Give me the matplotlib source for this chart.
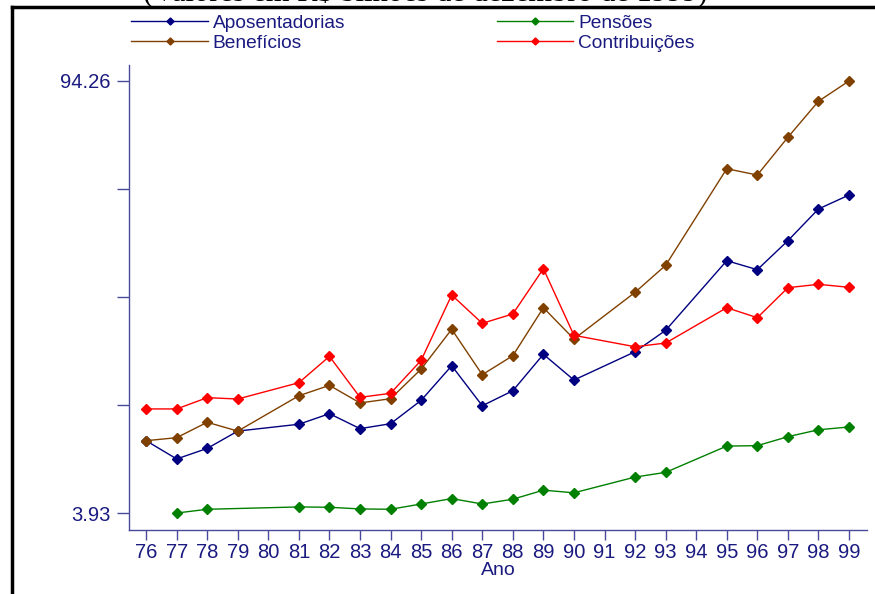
import numpy as np
import matplotlib
matplotlib.use("Agg")
import matplotlib.pyplot as plt
from matplotlib.lines import Line2D
from matplotlib.ticker import FixedLocator, NullLocator

plt.rcParams["font.family"] = ["Liberation Sans", "DejaVu Sans"]

NAVY = "#1a1a80"
AXIS = "#4a4a9c"

years = [76, 77, 78, 79, 81, 82, 83, 84, 85, 86, 87, 88, 89, 90, 92, 93, 95, 96, 97, 98, 99]
pens_years = [77, 78, 81, 82, 83, 84, 85, 86, 87, 88, 89, 90, 92, 93, 95, 96, 97, 98, 99]

aposentadorias = [6.69, 5.85, 6.32, 7.18, 7.55, 8.16, 7.31, 7.58, 9.00, 11.61, 8.65,
                  9.66, 12.63, 10.45, 12.87, 15.06, 25.14, 23.53, 29.12, 36.77, 40.75]
beneficios = [6.69, 6.84, 7.66, 7.18, 9.31, 10.05, 8.83, 9.11, 11.33, 15.18, 10.87,
              12.50, 17.79, 14.13, 19.92, 24.30, 49.44, 47.20, 62.30, 81.20, 94.26]
pensoes = [3.93, 4.04, 4.11, 4.10, 4.05, 4.04, 4.20, 4.37, 4.20,
           4.35, 4.65, 4.56, 5.12, 5.30, 6.43, 6.45, 6.89, 7.25, 7.40]
contribuicoes = [8.45, 8.45, 9.18, 9.09, 10.25, 12.44, 9.20, 9.48, 12.08, 19.53, 15.86,
                 16.99, 23.70, 14.52, 13.35, 13.72, 17.79, 16.53, 20.61, 21.13, 20.67]

xticks = list(range(76, 100))
ymin, ymax = 3.93, 94.26

fig = plt.figure(figsize=(8.75, 5.94), dpi=100)
ax = fig.add_axes([0.1474, 0.1077, 0.8435, 0.7829])

style = dict(marker="D", markersize=5.5, linewidth=1)
ax.plot(years, aposentadorias, color="#000080", label="Aposentadorias", **style)
ax.plot(years, beneficios, color="#804000", label="Benefícios", **style)
ax.plot(pens_years, pensoes, color="#008000", label="Pensões", **style)
ax.plot(years, contribuicoes, color="#ff0000", label="Contribuições", **style)

ax.set_yscale("log")
lo, hi = np.log(ymin), np.log(ymax)
step = (hi - lo) / 4
ax.set_ylim(np.exp(lo - 17 / 108 * step), np.exp(hi + 16 / 108 * step))
ax.yaxis.set_major_locator(FixedLocator(np.exp(np.linspace(lo, hi, 5))))
ax.yaxis.set_minor_locator(NullLocator())
ax.set_yticklabels([f"{ymin:.2f}", "", "", "", f"{ymax:.2f}"])

ax.set_xlim(75.44, 99.59)
ax.set_xticks(xticks)
ax.set_xticklabels([str(x) for x in xticks])
ax.set_xlabel("Ano", color=NAVY, fontsize=14, labelpad=0)

for s in ["top", "right"]:
    ax.spines[s].set_visible(False)
for s in ["left", "bottom"]:
    ax.spines[s].set_color(AXIS)
    ax.spines[s].set_linewidth(1)
ax.tick_params(axis="y", colors=AXIS, labelcolor=NAVY, length=9, width=1, labelsize=14.5, pad=4)
ax.tick_params(axis="x", colors=AXIS, labelcolor=NAVY, length=7.5, width=1, labelsize=14.5, pad=2)

# legend in two columns above the plot
leg = fig.legend(loc="upper left", bbox_to_anchor=(0.137, 0.995), ncol=2, frameon=False,
                 fontsize=13.8, handlelength=4.0, handletextpad=0.25, columnspacing=7.9,
                 labelspacing=0.15, markerscale=0.65, borderpad=0.1)
for t in leg.get_texts():
    t.set_color(NAVY)

# clipped subtitle at the very top
fig.text(0.486, 1 - 1 / 594, "(Valores em R$ bilhões de dezembro de 1999)", ha="center",
         va="baseline", fontsize=22, family="Liberation Serif", color="black")

# black frame lines (left and top)
fig.add_artist(Line2D([12 / 875, 12 / 875], [0, 1 - 7 / 594], color="black", linewidth=2.5,
                      transform=fig.transFigure))
fig.add_artist(Line2D([12 / 875, 1], [1 - 7 / 594, 1 - 7 / 594], color="black", linewidth=2.5,
                      transform=fig.transFigure))

fig.savefig("out.png", dpi=100)
